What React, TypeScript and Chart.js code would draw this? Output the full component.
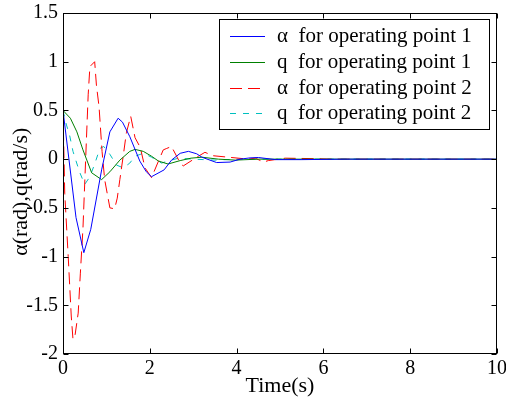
import React, { useEffect, useRef } from "react";
import { Chart, registerables } from "chart.js";

Chart.register(...registerables);

const xTicks = [0, 2, 4, 6, 8, 10];
const yTicks = [-2, -1.5, -1, -0.5, 0, 0.5, 1, 1.5];
const seriesLabels = [
  "α  for operating point 1",
  "q  for operating point 1",
  "α  for operating point 2",
  "q  for operating point 2",
];

const alpha1Time = [0, 0.3, 0.48, 0.64, 0.89, 1.08, 1.27, 1.37, 1.54, 1.77, 1.92, 2.04, 2.33, 2.5, 2.7, 2.89, 3.08, 3.2, 3.54, 3.85, 4.08, 4.31, 4.5, 4.9, 5.5, 6.5, 10];
const alpha1Values = [0.5, -0.6, -0.96, -0.72, -0.11, 0.28, 0.42, 0.38, 0.23, -0.02, -0.13, -0.18, -0.11, -0.01, 0.06, 0.08, 0.055, 0.02, -0.035, -0.03, 0, 0.013, 0.017, -0.005, -0.005, 0, 0];

const q1Time = [0, 0.17, 0.32, 0.46, 0.66, 0.89, 1.08, 1.31, 1.54, 1.66, 1.85, 2.04, 2.2, 2.42, 2.7, 2.95, 3.2, 3.58, 3.97, 4.5, 10];
const q1Values = [0.5, 0.42, 0.28, 0.095, -0.14, -0.21, -0.13, -0.01, 0.08, 0.1, 0.08, 0.03, -0.02, -0.05, -0.015, 0.01, 0.02, 0, -0.01, 0, 0];

const alpha2Time = [0, 0.04, 0.12, 0.19, 0.23, 0.28, 0.35, 0.4, 0.46, 0.58, 0.62, 0.73, 0.77, 0.83, 0.9, 0.96, 1.08, 1.19, 1.25, 1.31, 1.39, 1.46, 1.56, 1.66, 1.78, 1.89, 2.04, 2.2, 2.31, 2.39, 2.5, 2.7, 2.77, 3.12, 3.27, 3.46, 4.27, 4.43, 4.62, 4.73, 5.12, 5.8, 6.2, 10];
const alpha2Values = [0.5, -0.35, -1.0, -1.61, -1.85, -1.8, -1.58, -1.17, -0.71, 0.66, 0.95, 1.0, 0.76, 0.54, 0.08, -0.21, -0.5, -0.51, -0.4, -0.21, 0.04, 0.27, 0.44, 0.22, 0.12, -0.09, -0.19, -0.02, 0.095, 0.11, 0.13, -0.04, -0.07, 0.03, 0.07, 0.035, 0, 0.01, -0.03, -0.015, 0.01, 0.005, 0, 0];

const q2Time = [0, 0.08, 0.15, 0.23, 0.38, 0.5, 0.62, 0.73, 0.85, 0.94, 1.08, 1.23, 1.39, 1.54, 1.66, 1.85, 2.04, 2.27, 2.5, 2.66, 3, 3.5, 4, 10];
const q2Values = [0.5, 0.35, 0.25, 0.08, -0.13, -0.26, -0.18, -0.05, 0.11, 0.13, 0.05, -0.06, -0.09, -0.04, 0.03, 0.06, 0.02, -0.04, -0.01, 0.01, 0, -0.01, 0, 0];

const toPoints = (t: number[], v: number[]) => t.map((x, i) => ({ x, y: v[i] }));

const FONT = "'Liberation Serif', 'Times New Roman', serif";

const framePlugin = {
  id: "frameTicks",
  afterDraw(chart: any) {
    const { ctx, chartArea } = chart;
    const xs = chart.scales.x;
    const ys = chart.scales.y;
    const L = Math.round(chartArea.left) + 0.5;
    const R = Math.round(chartArea.right) - 0.5;
    const T = Math.round(chartArea.top) + 0.5;
    const B = Math.round(chartArea.bottom) - 0.5;
    ctx.save();
    ctx.strokeStyle = "#000";
    ctx.lineWidth = 1;
    ctx.setLineDash([]);
    ctx.beginPath();
    xTicks.forEach((v) => {
      const p = Math.round(xs.getPixelForValue(v)) + 0.5;
      ctx.moveTo(p, B);
      ctx.lineTo(p, B - 5);
      ctx.moveTo(p, T);
      ctx.lineTo(p, T + 5);
    });
    yTicks.forEach((v) => {
      const p = Math.round(ys.getPixelForValue(v)) + 0.5;
      ctx.moveTo(L, p);
      ctx.lineTo(L + 5, p);
      ctx.moveTo(R, p);
      ctx.lineTo(R - 5, p);
    });
    ctx.stroke();
    ctx.strokeRect(L, T, R - L, B - T);

    const bx = 219.5, by = 19.5, bw = 270, bh = 110;
    ctx.fillStyle = "#fff";
    ctx.fillRect(bx, by, bw, bh);
    ctx.strokeRect(bx, by, bw, bh);
    const rows = [36, 62, 88, 113];
    chart.data.datasets.forEach((ds: any, i: number) => {
      const y = rows[i] + 0.5;
      ctx.strokeStyle = ds.borderColor;
      ctx.setLineDash(ds.borderDash || []);
      ctx.beginPath();
      ctx.moveTo(230, y);
      ctx.lineTo(265, y);
      ctx.stroke();
      ctx.setLineDash([]);
      ctx.fillStyle = "#000";
      ctx.font = `21px ${FONT}`;
      ctx.textBaseline = "middle";
      ctx.textAlign = "left";
      ctx.fillText(ds.label, 277, rows[i]);
    });
    ctx.restore();
  },
};

export default function App() {
  const ref = useRef<HTMLCanvasElement | null>(null);
  useEffect(() => {
    document.body.style.margin = "0";
    if (!ref.current) return;
    const mk = (i: number, t: number[], v: number[], color: string, dash: number[]) => ({
      label: seriesLabels[i],
      data: toPoints(t, v),
      borderColor: color,
      backgroundColor: color,
      borderWidth: 1,
      borderDash: dash,
      pointRadius: 0,
      tension: 0,
      fill: false,
    });
    const chart = new Chart(ref.current, {
      type: "line",
      data: {
        datasets: [
          mk(0, alpha1Time, alpha1Values, "#0000ff", []),
          mk(1, q1Time, q1Values, "#008000", []),
          mk(2, alpha2Time, alpha2Values, "#ff0000", [12, 6]),
          mk(3, q2Time, q2Values, "#00bfbf", [6, 7]),
        ],
      },
      options: {
        animation: false,
        responsive: false,
        devicePixelRatio: 1,
        layout: { padding: { top: 13, right: 9, left: 0, bottom: 0 } },
        plugins: { legend: { display: false }, tooltip: { enabled: false } },
        scales: {
          x: {
            type: "linear",
            min: 0,
            max: 10,
            afterFit: (s: any) => { s.height = 45; s.paddingLeft = 0; s.paddingRight = 0; },
            afterBuildTicks: (s: any) => { s.ticks = xTicks.map((v) => ({ value: v })); },
            grid: { display: false, drawTicks: false },
            border: { display: false },
            ticks: { color: "#000", padding: 3, font: { family: FONT, size: 20 }, maxRotation: 0, callback: (v: any) => String(v) },
            title: { display: true, text: "Time(s)", color: "#000", font: { family: FONT, size: 22 }, padding: { top: 0, bottom: 0 } },
          },
          y: {
            type: "linear",
            min: -2,
            max: 1.5,
            afterFit: (s: any) => { s.width = 63; s.paddingTop = 0; s.paddingBottom = 0; },
            afterBuildTicks: (s: any) => { s.ticks = yTicks.map((v) => ({ value: v })); },
            grid: { display: false, drawTicks: false },
            border: { display: false },
            ticks: { color: "#000", padding: 5, font: { family: FONT, size: 20 }, callback: (v: any) => String(v) },
            title: { display: true, text: "α(rad),q(rad/s)   ", color: "#000", font: { family: FONT, size: 22 }, padding: { top: 8, bottom: 0 } },
          },
        },
      },
      plugins: [framePlugin],
    });
    return () => chart.destroy();
  }, []);
  return (
    <div style={{ width: 506, height: 399, background: "#fff" }}>
      <canvas ref={ref} width={506} height={399} style={{ display: "block" }} />
    </div>
  );
}
